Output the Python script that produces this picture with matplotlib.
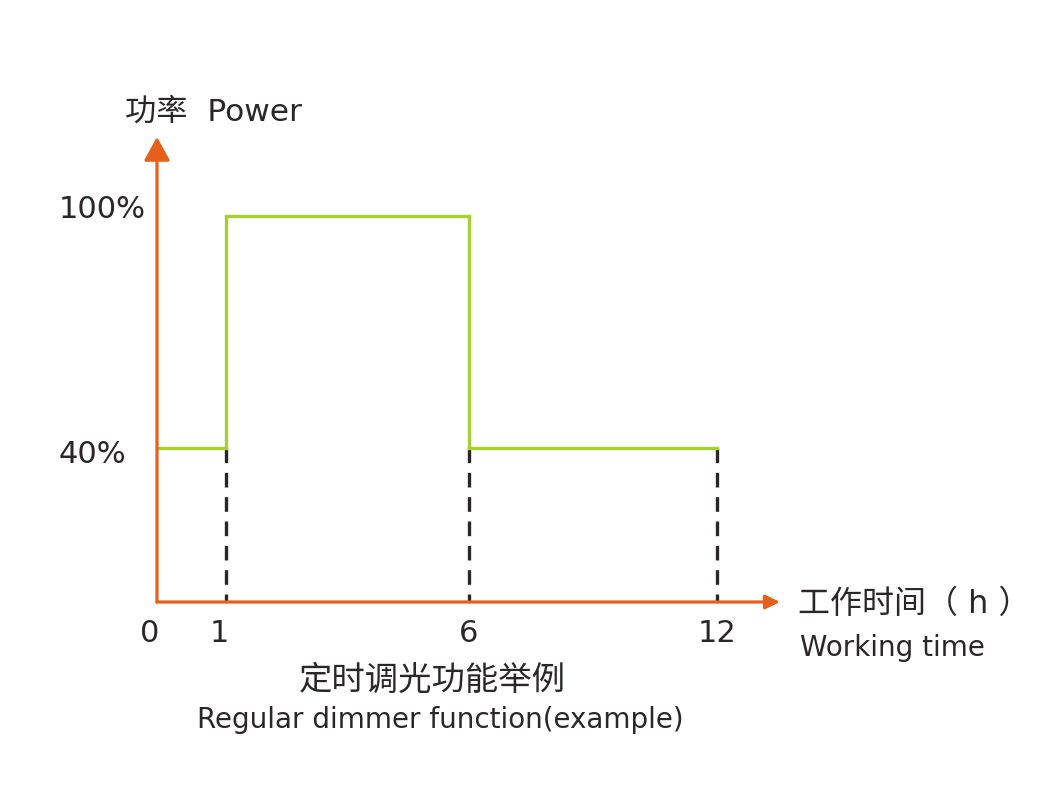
import numpy as np
import matplotlib
matplotlib.use('Agg')
import matplotlib.pyplot as plt
from matplotlib.transforms import ScaledTranslation

plt.rcParams['font.family'] = ['DejaVu Sans', 'Noto Sans CJK SC']

# step profile of the dimmer (hours, power %)
hours = [0, 1, 1, 6, 6, 12]
power = [40, 40, 100, 100, 40, 40]
switch_hours = [1, 6, 12]
switch_level = 40
x_ticks = [0, 1, 6, 12]
x_tick_labels = ['0', '1', '6', '12']
y_ticks = [40, 100]
y_tick_labels = ['40%', '100%']

ORANGE = '#e4601b'
GREEN = '#a8cf30'
DARK = '#2b2627'

W, H = 1038, 811
fig = plt.figure(figsize=(W / 100, H / 100), dpi=100)

# axes placed in pixels: origin (157, 602), x=12h at 717, 100% at 216
ox, oy, right, top = 157, 602, 717, 216
ax = fig.add_axes([ox / W, (H - oy) / H, (right - ox) / W, (oy - top) / H])

# the drawing's time axis is not linear: piecewise mapping
nodes_h = [0, 1, 6, 12]
nodes_p = [0, 69, 312, 560]
fwd = lambda x: np.interp(x, nodes_h, nodes_p)
inv = lambda p: np.interp(p, nodes_p, nodes_h)
ax.set_xscale('function', functions=(fwd, inv))
ax.set_xlim(0, 12)
ax.set_ylim(0, 100)

for s in ax.spines.values():
    s.set_visible(False)

ax.plot(hours, power, color=GREEN, lw=2.4, solid_joinstyle='miter', clip_on=False, zorder=3)

for h in switch_hours:
    ax.plot([h, h], [switch_level, 0], color=DARK, lw=2.4, dashes=(4.4, 2.9),
            clip_on=False, zorder=2)

# axis arrows
ax.annotate('', xy=(1.1125, 0), xytext=(0, 0), xycoords='axes fraction',
            arrowprops=dict(arrowstyle='-|>,head_length=0.86,head_width=0.42',
                            color=ORANGE, lw=2.3, shrinkA=0, shrinkB=0, mutation_scale=10),
            zorder=4)
ax.annotate('', xy=(0, 1.205), xytext=(0, 0), xycoords='axes fraction',
            arrowprops=dict(arrowstyle='-|>,head_length=1.44,head_width=0.79',
                            color=ORANGE, lw=2.3, shrinkA=0, shrinkB=0, mutation_scale=10),
            zorder=4)

ax.set_xticks(x_ticks)
ax.set_xticklabels(x_tick_labels)
ax.set_yticks(y_ticks)
ax.set_yticklabels(y_tick_labels, ha='left')
ax.tick_params(axis='x', length=0, pad=12, labelsize=22, labelcolor=DARK)
ax.tick_params(axis='y', length=0, pad=71, labelsize=22, labelcolor=DARK)

# small nudges of labels as in the drawing
for lab in ax.get_xticklabels()[:2]:
    lab.set_transform(lab.get_transform() + ScaledTranslation(-0.07, 0, fig.dpi_scale_trans))
ylabs = ax.get_yticklabels()
ylabs[0].set_transform(ylabs[0].get_transform() + ScaledTranslation(0, -0.04, fig.dpi_scale_trans))
ylabs[1].set_transform(ylabs[1].get_transform() + ScaledTranslation(0, 0.1, fig.dpi_scale_trans))

def px(x, y):
    return x / W, 1 - y / H

fig.text(*px(125, 112), '功率  Power', fontsize=22.5, color=DARK, va='center', ha='left')
fig.text(*px(798, 604), '工作时间（ h ）', fontsize=23, color=DARK, va='center', ha='left')
fig.text(*px(800, 648), 'Working time', fontsize=20, color=DARK, va='center', ha='left')
fig.text(*px(432, 680), '定时调光功能举例', fontsize=24, color=DARK, va='center', ha='center')
fig.text(*px(440, 720), 'Regular dimmer function(example)', fontsize=20, color=DARK,
         va='center', ha='center')

fig.savefig('out.png', dpi=100, facecolor='white')
